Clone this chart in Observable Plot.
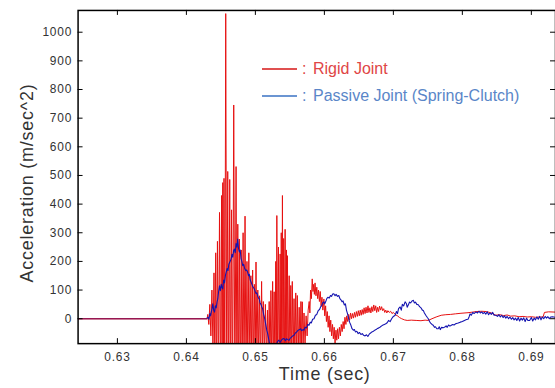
<!DOCTYPE html>
<html><head><meta charset="utf-8">
<script src="https://cdn.jsdelivr.net/npm/d3@7"></script>
<script src="https://cdn.jsdelivr.net/npm/@observablehq/plot@0.6"></script>
<style>
html,body{margin:0;padding:0;background:#fff;overflow:hidden}
#wrap{position:relative;width:555px;height:388px;overflow:hidden}
.leg{position:absolute;font-family:"Liberation Sans",Arial,sans-serif;font-size:16px;white-space:nowrap;line-height:16px}
.leg .ln{position:absolute;left:0;top:7px;width:35px;height:0;border-top:2px solid}
.leg .c{position:absolute;left:40px;top:0}
.leg .t{position:absolute;left:51px;top:0}
</style></head><body><div id="wrap"></div>
<script>
const seriesNames = ["Rigid Joint", "Passive Joint (Spring-Clutch)"];
const xTicks = [0.63, 0.64, 0.65, 0.66, 0.67, 0.68, 0.69];
const yTicks = [0, 100, 200, 300, 400, 500, 600, 700, 800, 900, 1000];

// [time (sec), acceleration (m/sec^2)]
const rigidJoint = [
[0.6243,0],[0.6430,0],
[0.64310,15],[0.64325,-20],[0.64340,50],[0.64355,-60],[0.64370,100],[0.64385,-110],
[0.64400,160],[0.64412,-160],[0.64425,230],[0.64437,-200],[0.64450,270],[0.64465,-220],
[0.64480,371],[0.64495,-250],[0.64510,430],[0.64518,-250],[0.64527,475],[0.64536,-260],
[0.64545,490],[0.64557,-280],[0.64570,1065],[0.64585,-300],[0.64599,514],[0.64613,-300],
[0.64628,486],[0.64641,-280],[0.64655,380],[0.64670,-300],[0.64686,746],[0.64703,-300],
[0.64720,531],[0.64732,-280],[0.64745,330],[0.64756,-260],[0.64768,278],[0.64781,-250],
[0.64795,240],[0.64808,-240],[0.64822,300],[0.64836,-230],[0.64850,358],[0.64864,-220],
[0.64878,200],[0.64891,-200],[0.64905,230],[0.64920,-190],[0.64935,150],[0.64948,-180],
[0.64960,170],[0.64972,-170],[0.64985,120],[0.64997,-160],[0.65009,198],[0.65022,-150],
[0.65035,100],[0.65048,-140],[0.65060,80],[0.65075,-150],[0.65090,130],[0.65102,-140],
[0.65115,60],[0.65130,-130],[0.65145,50],[0.65160,-140],[0.65175,30],[0.65188,-150],
[0.65200,60],[0.65212,-160],[0.65225,98],[0.65237,-170],[0.65250,130],[0.65261,-180],
[0.65272,94],[0.65283,-190],[0.65295,200],[0.65303,-200],[0.65311,360],[0.65323,-210],
[0.65335,250],[0.65347,-200],[0.65359,226],[0.65367,-210],[0.65375,300],[0.65383,-220],
[0.65392,430],[0.65401,-220],[0.65410,280],[0.65420,-210],[0.65431,312],[0.65441,-200],
[0.65450,240],[0.65457,-190],[0.65464,220],[0.65477,-180],[0.65490,150],[0.65501,-170],
[0.65513,116],[0.65524,-160],[0.65535,130],[0.65548,-150],[0.65560,70],[0.65572,-140],
[0.65585,90],[0.65597,-130],[0.65608,81],[0.65621,-120],[0.65635,40],[0.65648,-110],
[0.65660,60],[0.65670,-100],[0.65680,59],[0.65692,-95],[0.65705,20],[0.65720,-90],
[0.65735,10],[0.65750,-60],[0.65765,30],[0.65780,60],[0.65790,20],[0.65800,100],[0.65812,70],
[0.65824,139],[0.65835,95],[0.65845,120],[0.65855,85],[0.65865,125],[0.65878,80],[0.65890,110],
[0.65903,70],[0.65915,100],[0.65928,60],[0.65940,95],[0.65952,45],[0.65965,75],[0.65978,30],
[0.65993,69],[0.66005,10],[0.66018,45],[0.66030,-10],[0.66042,25],[0.66055,-30],[0.66068,10],
[0.66080,-45],[0.66092,-5],[0.66105,-60],[0.66118,-20],[0.66130,-70],[0.66142,-30],[0.66155,-85],
[0.66168,-40],[0.66180,-75],[0.66192,-35],[0.66205,-70],[0.66218,-30],[0.66232,-60],[0.66245,-20],
[0.66258,-45],[0.66272,-10],[0.66285,-35],[0.66298,5],[0.66312,-20],[0.66324,10],[0.66338,-10],
[0.66352,15],[0.66366,-5],[0.66380,20],[0.66394,0],[0.66408,18],[0.66422,2],[0.66436,22],
[0.66450,5],[0.66464,25],[0.66478,8],[0.66492,28],[0.66506,10],[0.66520,30],[0.66534,12],
[0.66548,32],[0.66562,15],[0.66576,38],[0.66590,18],[0.66604,40],[0.66618,20],[0.66632,45],
[0.66646,22],[0.66660,38],[0.66674,20],[0.66688,42],[0.66702,25],[0.66716,48],[0.66730,28],
[0.66744,45],[0.66758,22],[0.66772,40],[0.66786,25],[0.66800,44],[0.66815,30],[0.66830,42],
[0.66845,28],[0.66860,35],[0.66875,22],[0.66890,30],[0.66905,20],[0.66920,28],[0.66940,22],
[0.66960,26],[0.66980,18],[0.67000,22],[0.67030,14],[0.67060,10],[0.67090,4],[0.67120,0],
[0.67160,-4],[0.67200,-6],[0.67260,-5],[0.67330,-6],[0.67400,-7],[0.67460,-5],[0.67506,-6],
[0.67560,0],[0.67620,6],[0.67693,12],[0.67760,14],[0.67830,15],[0.67900,17],[0.67980,19],
[0.68082,21],[0.68150,23],[0.68200,25],[0.68280,26],[0.68350,25],[0.68420,20],[0.68486,12],
[0.68540,14],[0.68600,11],[0.68650,13],[0.68700,9],[0.68760,10],[0.68820,7],[0.68880,8],
[0.68940,6],[0.69000,7],[0.69060,5],[0.69120,6],[0.69170,6],[0.69190,22],[0.69250,24],[0.69350,23]
];

const passiveJoint = [
[0.6243,0],[0.64293,0],[0.64311,5],[0.64325,-2],[0.64340,18],[0.64350,10],[0.64360,23],[0.64372,35],
[0.64383,52],[0.64395,30],[0.64408,23],[0.64420,45],[0.64432,38],[0.64445,60],[0.64455,69],[0.64467,95],
[0.64480,115],[0.64492,98],[0.64505,120],[0.64515,110],[0.64527,104],[0.64540,135],[0.64552,125],
[0.64565,150],[0.64576,162],[0.64590,175],[0.64603,168],[0.64615,190],[0.64630,198],[0.64648,208],
[0.64660,225],[0.64672,215],[0.64685,238],[0.64695,243],[0.64708,230],[0.64720,262],[0.64732,250],
[0.64744,278],[0.64756,245],[0.64768,233],[0.64780,240],[0.64792,210],[0.64804,200],[0.64816,185],
[0.64830,190],[0.64845,175],[0.64860,168],[0.64875,170],[0.64888,162],[0.64900,150],[0.64912,155],
[0.64925,135],[0.64937,128],[0.64950,120],[0.64962,112],[0.64975,108],[0.64984,104],[0.64998,95],
[0.65010,88],[0.65022,90],[0.65035,78],[0.65046,72],[0.65056,69],[0.65068,55],[0.65080,50],
[0.65092,42],[0.65104,35],[0.65120,15],[0.65135,0],[0.65150,-20],[0.65165,-40],[0.65180,-55],
[0.65200,-80],[0.65215,-100],[0.65240,-110],[0.65270,-105],[0.65300,-95],[0.65320,-80],[0.65340,-75],
[0.65360,-82],[0.65380,-74],[0.65400,-70],[0.65416,-69],[0.65435,-77],[0.65450,-70],[0.65470,-73],
[0.65488,-75],[0.65505,-68],[0.65520,-65],[0.65540,-60],[0.65560,-58],[0.65580,-50],[0.65600,-46],
[0.65620,-40],[0.65640,-38],[0.65657,-35],[0.65670,-42],[0.65690,-38],[0.65705,-40],[0.65720,-30],
[0.65740,-32],[0.65760,-20],[0.65777,-23],[0.65795,-12],[0.65810,-15],[0.65830,-2],[0.65850,0],
[0.65870,12],[0.65890,15],[0.65910,28],[0.65930,32],[0.65945,41],[0.65960,45],[0.65975,55],
[0.65993,59],[0.66005,52],[0.66017,58],[0.66035,70],[0.66050,75],[0.66070,72],[0.66089,81],
[0.66105,78],[0.66120,86],[0.66137,87],[0.66155,80],[0.66170,85],[0.66190,78],[0.66209,81],
[0.66225,70],[0.66240,66],[0.66256,59],[0.66270,62],[0.66290,48],[0.66305,52],[0.66320,30],
[0.66335,18],[0.66352,0],[0.66365,-12],[0.66380,-20],[0.66401,-35],[0.66420,-40],[0.66435,-38],
[0.66450,-46],[0.66470,-44],[0.66490,-52],[0.66510,-48],[0.66530,-55],[0.66550,-52],[0.66569,-58],
[0.66590,-60],[0.66610,-56],[0.66630,-62],[0.66650,-54],[0.66670,-50],[0.66689,-46],[0.66710,-44],
[0.66730,-40],[0.66750,-38],[0.66770,-34],[0.66790,-32],[0.66810,-29],[0.66830,-25],[0.66850,-22],
[0.66870,-20],[0.66890,-18],[0.66910,-14],[0.66930,-6],[0.66954,-10],[0.66975,0],[0.67000,8],
[0.67026,12],[0.67045,25],[0.67060,18],[0.67075,35],[0.67098,41],[0.67115,30],[0.67130,50],
[0.67150,45],[0.67170,59],[0.67190,52],[0.67200,40],[0.67218,49],[0.67235,58],[0.67250,55],
[0.67270,62],[0.67290,64],[0.67305,55],[0.67320,58],[0.67340,50],[0.67362,49],[0.67380,42],
[0.67400,38],[0.67420,30],[0.67434,29],[0.67450,20],[0.67470,12],[0.67490,5],[0.67506,0],
[0.67525,-10],[0.67540,-15],[0.67560,-20],[0.67578,-23],[0.67595,-30],[0.67610,-28],[0.67630,-35],
[0.67650,-35],[0.67665,-28],[0.67680,-38],[0.67700,-30],[0.67720,-32],[0.67746,-29],[0.67765,-25],
[0.67780,-30],[0.67800,-22],[0.67820,-26],[0.67840,-23],[0.67860,-20],[0.67880,-22],[0.67900,-18],
[0.67914,-17],[0.67940,-15],[0.67970,-12],[0.68000,-10],[0.68030,-6],[0.68060,-3],[0.68082,-2],
[0.68100,8],[0.68111,17],[0.68130,12],[0.68150,22],[0.68170,18],[0.68197,24],[0.68220,20],
[0.68240,26],[0.68260,20],[0.68280,24],[0.68300,18],[0.68320,22],[0.68340,16],[0.68360,24],
[0.68380,14],[0.68400,20],[0.68420,15],[0.68440,22],[0.68460,12],[0.68486,12],[0.68510,8],
[0.68530,14],[0.68550,6],[0.68570,12],[0.68590,4],[0.68610,10],[0.68630,2],[0.68650,8],
[0.68670,0],[0.68690,6],[0.68710,-2],[0.68730,4],[0.68750,-4],[0.68770,2],[0.68790,-6],
[0.68810,4],[0.68830,-8],[0.68850,2],[0.68870,-5],[0.68890,3],[0.68910,-10],[0.68930,2],
[0.68950,-6],[0.68975,-6],[0.69000,4],[0.69020,-8],[0.69040,2],[0.69060,-4],[0.69080,6],
[0.69100,-2],[0.69120,8],[0.69140,-4],[0.69160,6],[0.69180,0],[0.69200,8],[0.69220,2],
[0.69240,7],[0.69260,0],[0.69280,6],[0.69307,7],[0.69350,5]
];

const redColor = "#e61010", blueColor = "#1414b0";
const impactTime = 0.6430;
const plotW = 558, plotH = 388, mL = 78, mT = 10, mB = 43;
const innerW = plotW - mL, innerH = plotH - mT - mB;
const tick = 5;

const chart = Plot.plot({
  width: plotW, height: plotH,
  marginLeft: mL, marginRight: 0, marginTop: mT, marginBottom: mB,
  style: {fontFamily: "Liberation Sans, Arial, sans-serif", fontSize: "12px", color: "#333", background: "#fff", letterSpacing: "0.8px", overflow: "visible"},
  x: {domain: [0.6243, 0.6935]},
  y: {domain: [-87, 1076]},
  marks: [
    Plot.line(rigidJoint, {x: d => d[0], y: d => d[1], stroke: redColor, strokeWidth: 1, clip: true}),
    Plot.line(passiveJoint, {x: d => d[0], y: d => d[1], stroke: blueColor, strokeWidth: 1.1, clip: true}),
    Plot.line(rigidJoint.filter(d => d[0] <= impactTime), {x: d => d[0], y: d => d[1], stroke: redColor, strokeOpacity: 0.5, strokeWidth: 1.6, clip: true}),
    Plot.tickY(yTicks, {y: d => d, insetRight: innerW - tick, stroke: "#000"}),
    Plot.tickY(yTicks, {y: d => d, insetLeft: innerW - tick, stroke: "#000"}),
    Plot.tickX(xTicks, {x: d => d, insetTop: innerH - tick, stroke: "#000"}),
    Plot.tickX(xTicks, {x: d => d, insetBottom: innerH - tick, stroke: "#000"}),
    Plot.axisX({ticks: xTicks, tickSize: 0, tickPadding: 9, tickFormat: d => d.toFixed(2), label: null}),
    Plot.axisY({ticks: yTicks, tickSize: 0, tickPadding: 6, tickFormat: d => String(d), label: null}),
    Plot.frame({stroke: "#000", strokeWidth: 1.5}),
    Plot.text(["Acceleration (m/sec^2)"], {frameAnchor: "left", textAnchor: "middle", lineAnchor: "middle", rotate: -90, dx: -51, dy: 6, fontSize: 18, fill: "#333"}),
    Plot.text(["Time (sec)"], {frameAnchor: "bottom", textAnchor: "middle", lineAnchor: "middle", dx: 8, dy: 31, fontSize: 18, fill: "#333"})
  ]
});
const wrap = document.getElementById("wrap");
wrap.appendChild(chart);

const legendStyles = [
  {top: 61, line: "#e05050", text: "#e04646"},
  {top: 88, line: "#6b95d2", text: "#5a86c8"}
];
seriesNames.forEach((name, i) => {
  const s = legendStyles[i];
  const div = document.createElement("div");
  div.className = "leg";
  div.style.left = "262px";
  div.style.top = s.top + "px";
  div.style.color = s.text;
  div.innerHTML = `<div class="ln" style="border-color:${s.line}"></div><span class="c">:</span><span class="t">${name}</span>`;
  wrap.appendChild(div);
});
</script></body></html>
